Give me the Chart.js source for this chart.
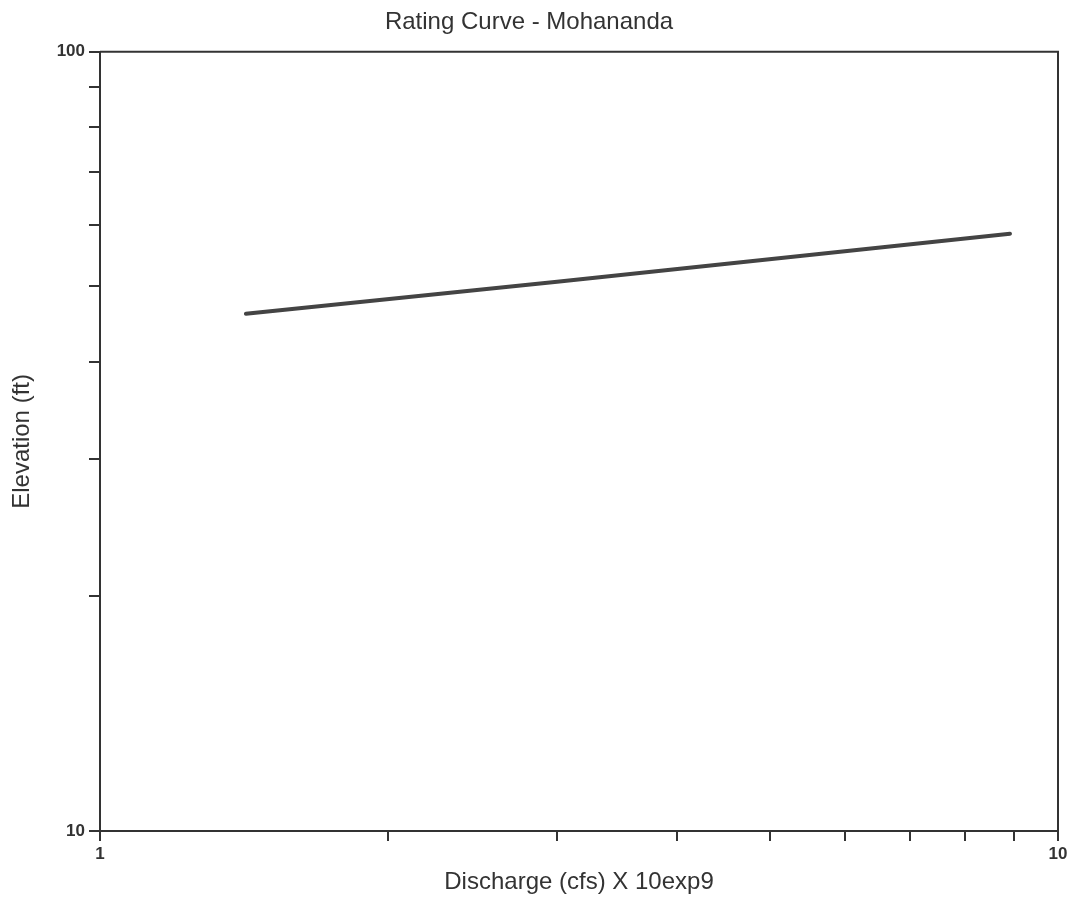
<!DOCTYPE html>
<html>
<head>
<meta charset="utf-8">
<title>Rating Curve - Mohananda</title>
<script src="https://cdn.jsdelivr.net/npm/chart.js@4"></script>
<style>
  html, body { margin: 0; padding: 0; background: #fff; }
  #wrap { width: 1080px; height: 901px; }
</style>
</head>
<body>
<div id="wrap"><canvas id="grafico-rating"></canvas></div>
<script>
// dados
const discharge = [1.42, 3.0, 8.91];
const elevation = [46.1, 50.7, 58.4];
const xTicks = [1, 2, 3, 4, 5, 6, 7, 8, 9, 10];
const yTicks = [10, 20, 30, 40, 50, 60, 70, 80, 90, 100];
const xLabels = [1, 10];
const yLabels = [10, 100];

const ink = '#333';
const fonte = 'Liberation Sans, Arial, sans-serif';

// moldura em volta da área do gráfico (lados de cima e da direita)
const moldura = {
    id: 'moldura',
    afterDraw(chart) {
        const { ctx, chartArea: a } = chart;
        ctx.save();
        ctx.strokeStyle = ink;
        ctx.lineWidth = 2;
        ctx.beginPath();
        ctx.moveTo(a.left, a.top);
        ctx.lineTo(a.right, a.top);
        ctx.lineTo(a.right, a.bottom);
        ctx.stroke();
        ctx.restore();
    }
};

const ctxRating = document.getElementById('grafico-rating').getContext('2d');
const graficoRating = new Chart(ctxRating, {
    type: 'line',
    data: {
        datasets: [{
            label: 'Rating Curve',
            data: discharge.map((d, i) => ({ x: d, y: elevation[i] })),
            borderColor: '#444',
            borderWidth: 4,
            borderCapStyle: 'round',
            pointRadius: 0,
            fill: false,
        }]
    },
    options: {
        responsive: true,
        maintainAspectRatio: false,
        animation: false,
        layout: { padding: { top: 0, right: 22, bottom: 0, left: 0 } },
        plugins: {
            legend: { display: false },
            tooltip: { enabled: false },
            title: {
                display: true,
                text: 'Rating Curve - Mohananda',
                color: ink,
                font: { family: fonte, size: 24, weight: 'normal' },
                padding: { top: 8, bottom: 15 }
            }
        },
        scales: {
            x: {
                type: 'logarithmic',
                min: 1,
                max: 10,
                afterBuildTicks: (s) => { s.ticks = xTicks.map(v => ({ value: v })); },
                afterFit: (s) => { s.height = 70; },
                border: { display: true, color: ink, width: 2 },
                grid: { drawOnChartArea: false, drawTicks: true, tickLength: 10, color: ink, lineWidth: 2 },
                ticks: {
                    autoSkip: false,
                    maxRotation: 0,
                    padding: 3,
                    color: ink,
                    font: { family: fonte, size: 17, weight: 'bold' },
                    callback: (v) => xLabels.includes(v) ? String(v) : ''
                },
                title: {
                    display: true,
                    text: 'Discharge (cfs) X 10exp9',
                    color: ink,
                    font: { family: fonte, size: 24 },
                    padding: { top: 0, bottom: 4 }
                }
            },
            y: {
                type: 'logarithmic',
                min: 10,
                max: 100,
                afterBuildTicks: (s) => { s.ticks = yTicks.map(v => ({ value: v })); },
                afterFit: (s) => { s.width = 100; },
                border: { display: true, color: ink, width: 2 },
                grid: { drawOnChartArea: false, drawTicks: true, tickLength: 11, color: ink, lineWidth: 2 },
                ticks: {
                    autoSkip: false,
                    padding: 4,
                    color: ink,
                    font: { family: fonte, size: 17, weight: 'bold' },
                    callback: (v) => yLabels.includes(v) ? String(v) : ''
                },
                title: {
                    display: true,
                    text: 'Elevation (ft)',
                    color: ink,
                    font: { family: fonte, size: 24 },
                    padding: { top: 8, bottom: 0 }
                }
            }
        }
    },
    plugins: [moldura]
});
</script>
</body>
</html>
